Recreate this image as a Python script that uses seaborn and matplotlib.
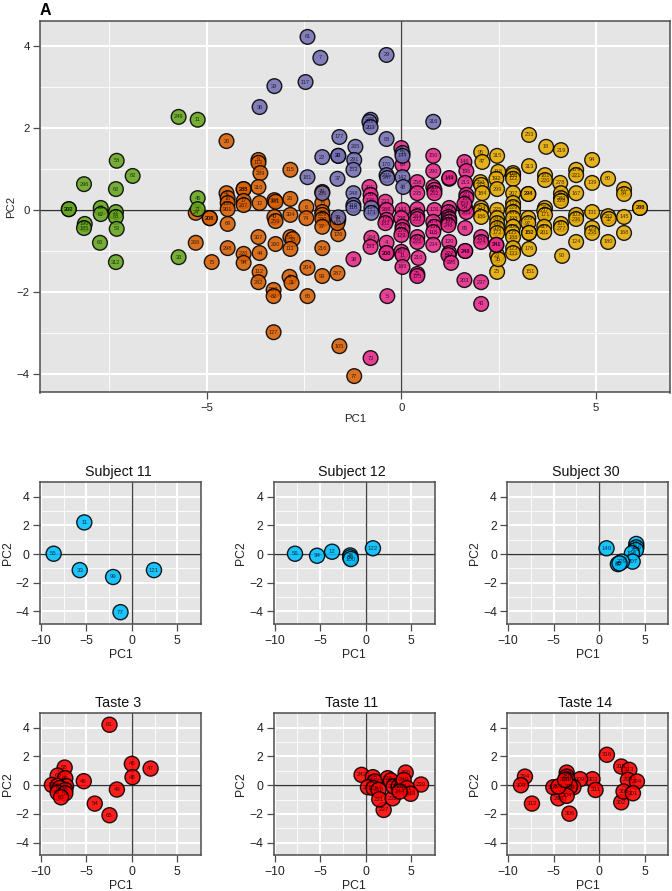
# -*- coding: utf-8 -*-
"""
PCA de sujetos / sabores: panel principal (A) y seis paneles pequenos
"""

import pandas as pd
import matplotlib
matplotlib.use('Agg')
import matplotlib.pyplot as plt
from matplotlib.ticker import FixedLocator
import seaborn as sns

# --- datos panel A, un grupo por color ---
green_x = [-5.72, -5.23, -7.31, -6.90, -8.15, -7.33, -8.54, -8.54, -7.72, -7.72, -7.33, -7.33, -8.13, -8.15, -7.31, -7.74, -7.33, -5.72, -5.23, -5.23]
green_y = [2.27, 2.20, 1.20, 0.83, 0.63, 0.51, 0.02, 0.02, 0.05, -0.10, -0.05, -0.17, -0.34, -0.44, -0.46, -0.80, -1.27, -1.15, 0.29, 0.02]
green_id = [249, 11, 58, 82, 296, 62, 300, 292, 29, 67, 22, 68, 190, 185, 53, 63, 312, 33, 45, 71]

orange_x = [-4.49, -3.67, -3.67, -3.62, -3.67, -2.85, -4.05, -4.05, -4.49, -4.46, -4.46, -4.46, -4.05, -4.05, -3.64, -3.26, -3.23, -2.85, -2.44, -2.85,
            -2.44, -2.03, -2.03, -2.03, -2.03, -2.03, -2.03, -5.28, -4.92, -4.92, -4.46, -3.26, -3.23, -3.67, -5.28, -4.46, -3.23, -2.85, -2.79, -2.85,
            -2.03, -4.05, -4.05, -3.64, -4.87, -3.64, -3.67, -2.87, -2.82, -2.41, -2.03, -1.64, -3.28, -3.28, -2.41, -3.28, -1.59, -1.21, -1.62, -1.62, -1.64]
orange_y = [1.68, 1.22, 1.15, 0.90, 0.56, 0.98, 0.51, 0.51, 0.41, 0.29, 0.17, 0.02, 0.22, 0.12, 0.17, 0.24, 0.20, 0.27, 0.07, -0.12,
            -0.20, 0.44, 0.17, -0.05, -0.12, -0.22, -0.41, -0.07, -0.20, -0.20, -0.34, -0.17, -0.27, -0.66, -0.80, -0.93, -0.83, -0.66, -0.71, -0.95,
            -0.93, -1.07, -1.29, -1.05, -1.27, -1.51, -1.76, -1.63, -1.78, -1.41, -1.61, -1.54, -1.95, -2.10, -2.10, -2.98, -3.32, -4.05, -0.59, -0.24, -0.32]
orange_id = [20, 9, 113, 289, 310, 115, 288, 285, 41, 16, 130, 201, 17, 267, 12, 308, 281, 26, 6, 304,
             74, 79, 15, 295, 229, 230, 27, 24, 206, 208, 69, 40, 259, 307, 266, 298, 260, 52, 78, 111,
             216, 220, 94, 44, 75, 112, 282, 6, 31, 204, 99, 287, 209, 82, 65, 127, 105, 77, 126, 76, 102]

purple_x = [-2.41, -2.08, -0.38, -2.46, -3.26, -3.64, -0.79, -0.82, -0.79, 0.82, -1.59, -0.38, -2.03, -1.62, -1.62, -1.18, -1.21, -1.23, -1.64, -2.41,
            -2.03, -1.23, -1.23, -1.23, -0.38, -0.38, -0.36, 0.03, 0.03, 0.03, 0.05, -0.77, -0.77, -1.62]
purple_y = [4.22, 3.71, 3.78, 3.12, 3.02, 2.51, 2.20, 2.15, 2.02, 2.15, 1.78, 1.73, 1.29, 1.32, 1.32, 1.54, 1.22, 0.98, 0.76, 0.80,
            0.41, 0.41, 0.12, 0.05, 1.12, 0.85, 0.78, 0.80, 1.39, 1.32, 0.56, 0.05, -0.07, -0.18]
purple_id = [61, 7, 29, 117, 39, 36, 275, 251, 203, 316, 177, 88, 22, 29, 30, 265, 291, 153, 37, 181,
             266, 248, 119, 116, 170, 231, 247, 142, 55, 144, 48, 134, 173, 79]

magenta_x = [0.0, 0.03, 0.82, 0.82, 1.23, 1.23, 1.62, 1.67, 1.64, 1.67, 1.67, 1.64, 1.67, 0.41, 0.41, 0.82, 0.85, 0.85, -0.82, -0.79,
             -0.79, -0.41, -0.38, -0.38, -0.41, 0.03, 0.0, 0.03, 0.03, 0.0, 0.41, 0.41, 0.41, 0.85, 0.82, 0.85, 0.82, 1.23, 1.21, 1.21,
             1.23, 1.23, 1.21, 1.64, 1.62, 0.41, 0.41, 0.82, -0.77, -0.79, -1.23, -0.38, -0.38, -0.38, 0.0, 0.03, 0.44, 0.03, 0.41, 0.41,
             1.23, 1.23, 1.21, 1.28, 1.64, 1.64, 1.62, 2.05, -0.36, 2.05, -0.79, 2.05, 2.05, 2.44, 2.44]
magenta_y = [1.51, 1.10, 1.32, 0.95, 0.76, 0.78, 1.17, 0.95, 0.66, 0.37, 0.29, 0.05, -0.05, 0.68, 0.41, 0.56, 0.49, 0.41, 0.56, 0.37,
             0.24, 0.20, 0.0, -0.24, -0.32, 0.0, -0.20, -0.41, -0.49, -0.61, 0.02, -0.15, -0.22, 0.0, -0.29, -0.41, -0.54, 0.05, -0.05, -0.17,
             -0.22, -0.29, -0.37, -0.44, 0.15, -0.66, -0.78, -0.85, -0.68, -0.90, -1.20, -0.80, -1.05, -1.05, -1.02, -1.10, -1.17, -1.39, -1.56, -1.61,
             -0.78, -1.05, -1.10, -1.29, -1.0, -1.0, -1.71, -1.76, -2.10, -2.29, -3.61, -0.66, -0.78, -0.85, -0.85]
magenta_id = [56, 86, 150, 290, 144, 149, 146, 196, 213, 221, 183, 54, 205, 258, 235, 211, 217, 252, 201, 50,
              125, 233, 269, 171, 182, 143, 238, 215, 276, 129, 222, 244, 232, 176, 174, 137, 118, 239, 242, 155,
              158, 191, 246, 85, 154, 263, 225, 234, 264, 193, 38, 4, 200, 268, 187, 11, 210, 169, 25, 175,
              120, 227, 147, 226, 248, 243, 203, 237, 5, 43, 73, 189, 224, 241, 341]

yellow_x = [3.28, 3.72, 4.10, 4.90, 2.05, 2.46, 2.08, 3.28, 2.49, 2.87, 2.87, 2.87, 2.44, 3.69, 3.69, 4.49, 4.49, 4.90, 5.31, 2.03,
            2.05, 2.08, 2.46, 2.87, 2.87, 2.87, 3.26, 3.26, 4.08, 4.49, 4.10, 4.10, 4.10, 5.72, 5.72, 6.13, 6.13, 3.69, 3.67, 3.69,
            4.90, 5.72, 4.49, 4.49, 5.31, 5.33, 4.10, 4.10, 4.90, 4.90, 5.72, 3.26, 3.26, 3.28, 3.28, 3.67, 3.67, 4.49, 5.31, 3.28,
            4.13, 3.31, 2.46, 2.05, 2.05, 2.05, 2.46, 2.46, 2.46, 2.46, 2.46, 2.87, 2.87, 2.87, 2.85, 2.87, 2.87, 2.87, 2.46, 2.49]
yellow_y = [1.83, 1.54, 1.46, 1.22, 1.41, 1.32, 1.17, 1.07, 0.93, 0.90, 0.85, 0.76, 0.76, 0.85, 0.73, 0.98, 0.85, 0.66, 0.76, 0.68,
            0.61, 0.41, 0.51, 0.41, 0.17, 0.07, 0.39, 0.39, 0.66, 0.41, 0.41, 0.29, 0.22, 0.51, 0.39, 0.05, 0.05, 0.05, -0.02, -0.12,
            -0.05, -0.17, -0.12, -0.22, -0.15, -0.22, -0.34, -0.44, -0.44, -0.56, -0.56, -0.20, -0.32, -0.56, -0.56, -0.41, -0.54, -0.78, -0.78, -0.95,
            -1.12, -1.51, -1.51, 0.05, -0.02, -0.17, 0.0, -0.20, -0.32, -0.44, -0.56, -0.05, -0.20, -0.41, -0.54, -0.66, -0.93, -1.05, -1.10, -1.20]
yellow_id = [253, 18, 219, 94, 95, 315, 47, 313, 118, 110, 166, 122, 192, 161, 220, 179, 221, 139, 80, 250,
             275, 164, 299, 207, 132, 229, 294, 298, 278, 167, 163, 280, 228, 162, 84, 288, 299, 267, 237, 171,
             131, 145, 103, 236, 283, 32, 107, 277, 129, 258, 168, 259, 97, 152, 160, 317, 201, 124, 180, 176,
             90, 151, 25, 254, 274, 186, 225, 243, 149, 306, 172, 141, 198, 200, 135, 188, 123, 133, 23, 35]

# --- datos paneles pequenos ---
subj11_x = [-5.23, -8.60, -5.73, -2.06, 2.43, -1.25]
subj11_y = [2.20, 0.02, -1.12, -1.60, -1.12, -4.05]
subj11_id = [11, 55, 33, 99, 121, 77]

subj12_x = [-7.76, -5.33, -3.68, -1.69, -1.69, -1.62, 0.81]
subj12_y = [0.02, -0.12, 0.16, -0.10, -0.23, -0.35, 0.40]
subj12_id = [56, 34, 12, 78, 89, 100, 122]

subj30_x = [0.81, 4.08, 4.08, 4.04, 3.60, 3.68, 2.50, 2.06, 2.24]
subj30_y = [0.40, 0.70, 0.46, 0.28, 0.05, -0.53, -0.53, -0.70, -0.65]
subj30_id = [140, 173, 256, 285, 196, 207, 229, 89, 85]

taste3_x = [-2.46, 0.0, 2.06, 0.07, -5.29, -1.65, -4.08, -2.46, -7.39, -8.16, -7.32, -8.79, -7.24, -8.16, -7.94, -7.32, -8.16, -7.32, -7.79]
taste3_y = [4.21, 1.49, 1.16, 0.56, 0.28, -0.30, -1.28, -2.09, 1.23, 0.67, 0.49, 0.02, -0.05, -0.05, -0.20, -0.33, -0.51, -0.56, -0.84]
taste3_id = [61, 45, 47, 48, 46, 49, 54, 65, 58, 60, 62, 55, 67, 59, 64, 68, 57, 53, 63]

taste11_x = [-0.44, 6.10, 1.99, 4.41, 0.81, 2.43, 1.00, 0.26, 0.88, 1.43, 1.51, 2.98, 2.79, 3.09, 3.64, 4.00, 4.19, 4.56, 4.96, 3.75]
taste11_y = [0.72, 0.05, -1.72, 0.88, 0.56, 0.49, 0.26, -0.14, -0.21, -0.33, -0.98, -0.91, 0.33, -0.09, -0.09, -0.09, 0.37, -0.21, -0.60, -0.44]
taste11_id = [242, 239, 237, 235, 225, 226, 227, 228, 229, 230, 231, 232, 233, 234, 236, 238, 240, 241, 243, 244]

taste14_x = [0.85, -8.16, -8.60, -7.39, -3.27, 2.43, 2.43, 3.31, 3.16, 4.15, 2.68, 3.71, -0.74, -0.40, -2.10, -3.57, -3.57, -3.50, -2.83, -3.20, -4.49, -3.57, -5.04, -4.49, -3.75]
taste14_y = [2.12, 0.60, 0.0, -1.28, -1.98, -1.19, 1.30, 1.07, 0.37, 0.26, -0.44, -0.56, 0.42, -0.33, 0.42, 0.88, 0.60, 0.37, -0.14, -0.09, -0.91, -0.74, -0.14, -0.09, 0.37]
taste14_id = [316, 294, 300, 312, 306, 302, 315, 313, 299, 294, 305, 301, 303, 311, 309, 296, 288, 310, 297, 295, 298, 304, 307, 293, 308]

W, H = 672, 891


def add_box(left, top, right, bottom):
    # posicion en pixeles de la imagen
    return fig.add_axes([left / W, 1 - bottom / H, (right - left) / W, (bottom - top) / H])


def style_panel(ax, xlim, ylim, xticks, xminor, yminor, fs):
    ax.set_facecolor('#E5E5E5')
    ax.set_xlim(*xlim)
    ax.set_ylim(*ylim)
    ax.set_xticks(xticks)
    ax.set_yticks([-4, -2, 0, 2, 4])
    ax.xaxis.set_minor_locator(FixedLocator(xminor))
    ax.yaxis.set_minor_locator(FixedLocator(yminor))
    ax.grid(which='major', color='white', lw=1.5, zorder=0)
    ax.grid(which='minor', color='white', lw=0.6, zorder=0)
    ax.set_axisbelow(True)
    ax.tick_params(which='minor', length=0)
    ax.tick_params(which='major', length=5, width=0.9, color='#4D4D4D', labelsize=fs, pad=2.5, labelcolor='#222222')
    for s in ax.spines.values():
        s.set_color('#4D4D4D')
        s.set_linewidth(1.1)
    ax.axhline(0, color='#333333', lw=1.0, zorder=1)
    ax.axvline(0, color='#444444', lw=1.0, zorder=1)


def draw_points(ax, data, colors, size, label_fs):
    sns.scatterplot(data=data, x='x', y='y', hue='grupo', palette=colors, s=size, alpha=0.88,
                    edgecolor='black', linewidth=1.0, legend=False, ax=ax, zorder=3, clip_on=True)
    for _, row in data.iterrows():
        ax.text(row['x'], row['y'], str(row['id']), ha='center', va='center', fontsize=label_fs,
                color='black', alpha=0.72, zorder=4)


sns.set_theme(style='ticks')
plt.rcParams['font.family'] = ['Liberation Sans', 'DejaVu Sans']

fig = plt.figure(figsize=(W / 100, H / 100), dpi=100)

# Panel A
frames = []
for nombre, xs, ys, ids in [('yellow', yellow_x, yellow_y, yellow_id),
                            ('magenta', magenta_x, magenta_y, magenta_id),
                            ('orange', orange_x, orange_y, orange_id),
                            ('purple', purple_x, purple_y, purple_id),
                            ('green', green_x, green_y, green_id)]:
    frames.append(pd.DataFrame({'x': xs, 'y': ys, 'id': ids, 'grupo': nombre}))
main_df = pd.concat(frames, ignore_index=True)
dark2 = {'green': '#66A61E', 'orange': '#D95F02', 'purple': '#7570B3', 'magenta': '#E7298A', 'yellow': '#E6AB02'}

ax = add_box(40, 20.5, 670, 392.5)
style_panel(ax, (-9.28, 6.9), (-4.45, 4.62), [-5, 0, 5], [-7.5, -2.5, 2.5], [-3, -1, 1, 3], 8.2)
draw_points(ax, main_df, dark2, 112, 4.1)
ax.set_xlabel('PC1', fontsize=8.2, labelpad=0.5, color='#222222')
ax.set_ylabel('PC2', fontsize=8.2, labelpad=0.5, color='#222222')
fig.text(40 / W, 1 - 15 / H, 'A', fontsize=11.5, fontweight='bold', color='black')

# Paneles pequenos
panels = [('Subject 11', subj11_x, subj11_y, subj11_id, '#00BFFF', 40, 481.5),
          ('Subject 12', subj12_x, subj12_y, subj12_id, '#00BFFF', 273.7, 481.5),
          ('Subject 30', subj30_x, subj30_y, subj30_id, '#00BFFF', 507.3, 481.5),
          ('Taste 3', taste3_x, taste3_y, taste3_id, '#FF0000', 40, 712.7),
          ('Taste 11', taste11_x, taste11_y, taste11_id, '#FF0000', 273.7, 712.7),
          ('Taste 14', taste14_x, taste14_y, taste14_id, '#FF0000', 507.3, 712.7)]

for titulo, xs, ys, ids, color, left, top in panels:
    ax = add_box(left, top, left + 161, top + 142.6)
    style_panel(ax, (-10.1, 7.6), (-4.88, 5.05), [-10, -5, 0, 5], [-7.5, -2.5, 2.5], [-3, -1, 1, 3], 8.8)
    df_p = pd.DataFrame({'x': xs, 'y': ys, 'id': ids, 'grupo': titulo})
    draw_points(ax, df_p, {titulo: color}, 118, 4.4)
    ax.set_title(titulo, fontsize=10.3, pad=4, x=0.485, color='#111111')
    ax.set_xlabel('PC1', fontsize=8.8, labelpad=1.5, color='#222222')
    ax.set_ylabel('PC2', fontsize=8.8, labelpad=1.5, color='#222222')

fig.savefig('out.png', dpi=100)
